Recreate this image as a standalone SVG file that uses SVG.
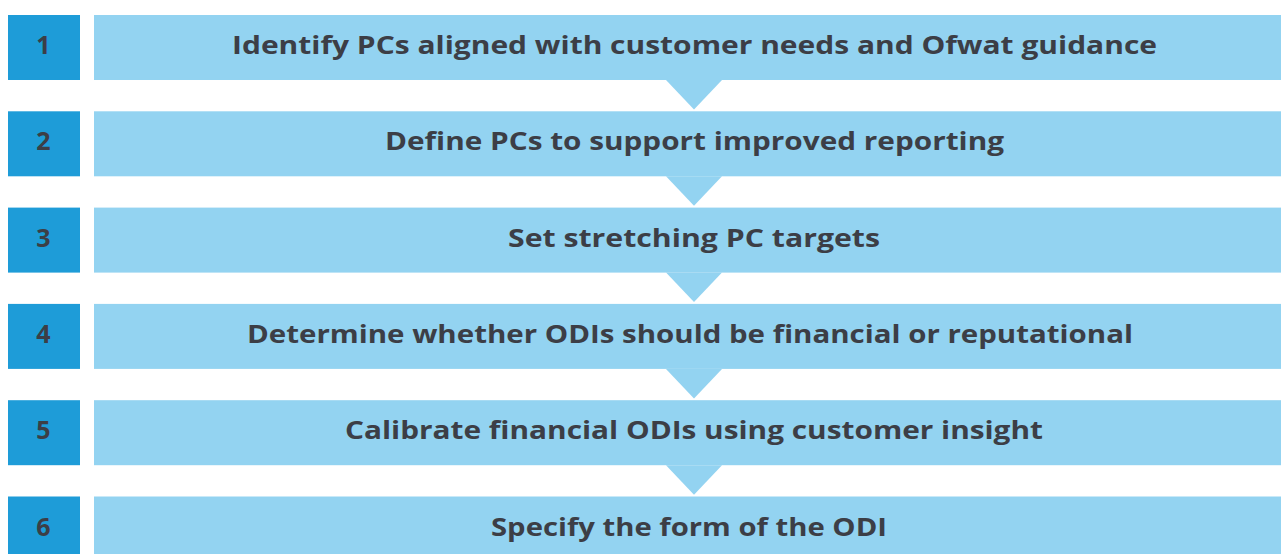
<svg xmlns="http://www.w3.org/2000/svg" width="1281" height="554" viewBox="0 0 1281 554">
<style>
.num{fill:#1e9cd8}
.bar{fill:#93d3f1}
.t{font-family:"Open Sans","Liberation Sans",sans-serif;font-weight:700;font-size:25.5px;fill:#3c3e46;text-anchor:middle}
.n{font-family:"Open Sans","Liberation Sans",sans-serif;font-weight:700;font-size:25px;fill:#3c3e46;text-anchor:middle}
</style>
<rect width="1281" height="554" fill="#ffffff"/>
<g id="connectors" class="bar">
<polygon points="666,80 722,80 694,109.5"/>
<polygon points="666,176.3 722,176.3 694,205.8"/>
<polygon points="666,272.6 722,272.6 694,302.1"/>
<polygon points="666,368.9 722,368.9 694,398.4"/>
<polygon points="666,465.2 722,465.2 694,494.7"/>
</g>
<g id="step1">
<rect class="num" x="8" y="15" width="72" height="65"/>
<text class="n" x="43.5" y="54">1</text>
<rect class="bar" x="94" y="15" width="1200" height="65"/>
<text class="t" x="694.5" y="54" textLength="925" lengthAdjust="spacingAndGlyphs">Identify PCs aligned with customer needs and Ofwat guidance</text>
</g>
<g id="step2">
<rect class="num" x="8" y="111.3" width="72" height="65"/>
<text class="n" x="43.5" y="150.3">2</text>
<rect class="bar" x="94" y="111.3" width="1200" height="65"/>
<text class="t" x="694.5" y="150.3" textLength="619" lengthAdjust="spacingAndGlyphs">Define PCs to support improved reporting</text>
</g>
<g id="step3">
<rect class="num" x="8" y="207.6" width="72" height="65"/>
<text class="n" x="43.5" y="246.6">3</text>
<rect class="bar" x="94" y="207.6" width="1200" height="65"/>
<text class="t" x="694" y="246.6" textLength="372" lengthAdjust="spacingAndGlyphs">Set stretching PC targets</text>
</g>
<g id="step4">
<rect class="num" x="8" y="303.9" width="72" height="65"/>
<text class="n" x="43.5" y="342.9">4</text>
<rect class="bar" x="94" y="303.9" width="1200" height="65"/>
<text class="t" x="690" y="342.9" textLength="886" lengthAdjust="spacingAndGlyphs">Determine whether ODIs should be financial or reputational</text>
</g>
<g id="step5">
<rect class="num" x="8" y="400.2" width="72" height="65"/>
<text class="n" x="43.5" y="439.2">5</text>
<rect class="bar" x="94" y="400.2" width="1200" height="65"/>
<text class="t" x="694" y="439.2" textLength="698" lengthAdjust="spacingAndGlyphs">Calibrate financial ODIs using customer insight</text>
</g>
<g id="step6">
<rect class="num" x="8" y="496.5" width="72" height="65"/>
<text class="n" x="43.5" y="535.5">6</text>
<rect class="bar" x="94" y="496.5" width="1200" height="65"/>
<text class="t" x="689" y="535.5" textLength="396" lengthAdjust="spacingAndGlyphs">Specify the form of the ODI</text>
</g>
</svg>
